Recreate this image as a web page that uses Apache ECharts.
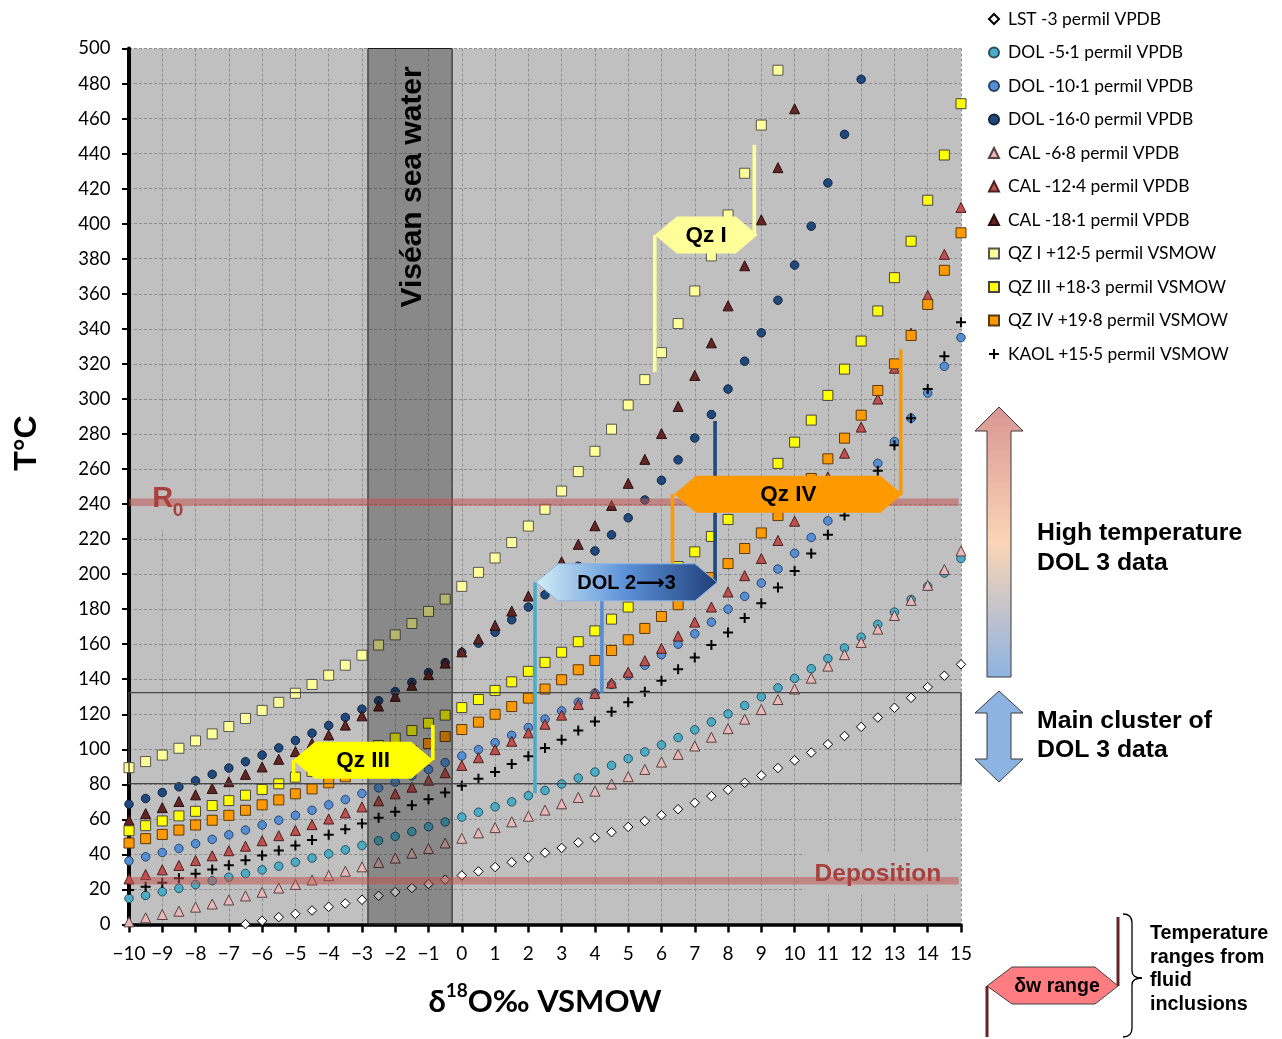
<!DOCTYPE html>
<html>
<head>
<meta charset="utf-8">
<title>δ18O water vs temperature</title>
<script src="https://cdn.jsdelivr.net/npm/echarts@6/dist/echarts.min.js"></script>
<style>
  html, body { margin: 0; padding: 0; background: #fff; }
  #chart { width: 1282px; height: 1039px; }
</style>
</head>
<body>
<div id="chart"></div>
<script>
// δ18O of the water (‰ VSMOW), one point every 0.5 ‰
const dW = [-10, -9.5, -9, -8.5, -8, -7.5, -7, -6.5, -6, -5.5,
  -5, -4.5, -4, -3.5, -3, -2.5, -2, -1.5, -1, -0.5,
  0, 0.5, 1, 1.5, 2, 2.5, 3, 3.5, 4, 4.5,
  5, 5.5, 6, 6.5, 7, 7.5, 8, 8.5, 9, 9.5,
  10, 10.5, 11, 11.5, 12, 12.5, 13, 13.5, 14, 14.5, 15];

// temperatures (°C), null = off the chart
const lst = [null, null, null, null, null, null, null, 0.2, 2.1, 4.2,
  6.1, 8, 10.1, 12, 14.1, 16.4, 18.5, 20.8, 23.1, 25.6,
  28, 30.3, 32.8, 35.5, 38.2, 41, 43.7, 46.8, 49.6, 52.7,
  55.7, 59, 62.4, 65.8, 69.5, 73.3, 76.9, 80.9, 85.1, 89.3,
  93.7, 98.1, 102.9, 107.6, 112.8, 118.1, 123.7, 129.4, 135.5, 142, 148.5];
const dol5 = [14.9, 16.6, 18.7, 20.6, 22.8, 25, 27, 29.1, 31.2, 33.3,
  35.6, 37.9, 40.3, 42.6, 45.1, 47.8, 50.3, 53, 55.8, 58.5,
  61.3, 64.1, 67.2, 70, 73.5, 76.5, 80.2, 83.6, 87, 90.8,
  94.7, 98.5, 102.5, 106.7, 111.1, 115.6, 120.2, 125, 130, 135.1,
  140.5, 146, 151.8, 157.8, 164, 171.3, 178.3, 185.5, 193, 200.6, 208.9];
const dol10 = [36.3, 38.6, 41.1, 43.4, 46.1, 48.6, 51.2, 53.9, 56.8, 59.5,
  62.3, 65.2, 68.3, 71.3, 74.8, 78, 81.3, 84.9, 88.5, 92.4,
  96.2, 99.8, 103.8, 108, 112.4, 117.2, 121.9, 126.9, 132, 137,
  142.2, 148, 154, 160, 165.9, 172.6, 180, 187.3, 194.9, 202.9,
  211.9, 220.9, 230.4, 240.5, 251.5, 263.2, 275.6, 289, 303.3, 318.6, 335];
const dol16 = [68.6, 71.9, 75.3, 78.6, 82, 85.7, 89.3, 92.9, 96.7, 100.8,
  105, 109.2, 113.6, 118.2, 122.9, 127.7, 132.9, 138.2, 143.8, 149.5,
  155.3, 160.6, 166.8, 173.9, 181.2, 188.2, 196, 204.5, 213.2, 222.4,
  232.1, 242.3, 253.5, 265.2, 277.7, 291.1, 305.6, 321.5, 337.7, 356.3,
  376.4, 398.6, 423.3, 451, 482.4, null, null, null, null, null, null];
const cal7 = [1.5, 3.8, 5.7, 7.6, 9.9, 11.7, 14, 16.3, 18.4, 20.8,
  22.9, 25.4, 27.9, 30.4, 32.9, 35.4, 37.9, 40.7, 43.4, 46.5,
  49.2, 52.3, 55.3, 58.6, 61.8, 65.3, 68.9, 72.5, 76.1, 80.2,
  84.4, 88.5, 92.7, 97.1, 101.9, 106.9, 111.8, 117.2, 122.7, 128.4,
  134.4, 140.6, 147.5, 154, 161, 168.6, 176.4, 185, 193.6, 202.6, 213.2];
const cal12 = [26, 28.5, 31.2, 33.7, 36.5, 39.2, 42.1, 44.7, 47.8, 50.7,
  53.7, 57, 60.2, 63.7, 67.1, 70.6, 74.6, 78.4, 82.4, 86.6,
  90.8, 95.2, 99.8, 104.6, 109.4, 114.3, 119.5, 125.6, 131.9, 137.8,
  144, 150.6, 157.6, 164.6, 172.6, 181.2, 189.8, 199.1, 208.9, 219.2,
  230.2, 242, 255.5, 269, 283.9, 299.9, 317.5, 337.5, 359, 382.5, 409.3];
const cal18 = [59.5, 63.3, 66.7, 70.2, 74, 77.6, 81.5, 85.7, 89.9, 94.3,
  98.7, 103.4, 108.2, 113.8, 119.1, 124.7, 130.2, 136.5, 142.6, 149.2,
  155.6, 163, 170.7, 178.9, 187.5, 197, 207, 217, 227.6, 239.2,
  251.8, 265.5, 280.2, 295.7, 313.4, 332, 353.1, 376, 402.2, 432,
  465.6, null, null, null, null, null, null, null, null, null, null];
const qz1 = [89.5, 93, 96.7, 100.6, 104.8, 108.8, 113, 117.6, 122.2, 126.8,
  132, 137, 142.3, 148, 153.7, 159.5, 165.3, 171.8, 178.7, 185.7,
  193, 201, 209.2, 218, 227.4, 237, 247.4, 258.5, 270.1, 282.7,
  296.5, 311, 326.4, 343, 361.6, 381.6, 405, 428.8, 456.3, 487.6,
  null, null, null, null, null, null, null, null, null, null, null];
const qz3 = [53.5, 56.4, 59.1, 62, 64.6, 67.9, 70.7, 73.8, 77.1, 80.3,
  84.1, 87.4, 90.8, 94.4, 98.2, 102.2, 106.4, 110.7, 114.9, 119.5,
  123.8, 128.4, 133.6, 138.5, 144.5, 149.6, 155.4, 161.4, 167.6, 174.3,
  181.2, 188.5, 196, 204.3, 212.7, 221.5, 231.2, 241.8, 252.3, 263.2,
  275.3, 287.9, 302, 317, 333, 350.2, 369.2, 390, 413.4, 439.2, 468.5];
const qz4 = [46.5, 49, 51.4, 53.9, 56.8, 59.5, 62.3, 65.2, 68.3, 71.1,
  74.6, 77.4, 80.9, 84.3, 87.9, 91.5, 95.3, 99.2, 103.3, 107.3,
  111.3, 115.5, 120, 124.4, 129.2, 134.4, 139.7, 145.4, 150.7, 156.4,
  162.5, 169, 175.8, 182.5, 190, 198, 206, 214.6, 223.5, 233.4,
  243.8, 254.6, 265.8, 277.6, 290.7, 304.8, 320, 336.2, 353.9, 373.4, 394.8];
const kaol = [19.7, 21.6, 23.9, 26.4, 28.9, 31.4, 33.8, 36.7, 39.4, 42.3,
  45.1, 48.2, 51.2, 54.3, 57.6, 61, 64.4, 68.1, 71.5, 75.3,
  79.2, 83.2, 87, 91.6, 96, 100.8, 105.5, 110.7, 115.8, 121.4,
  126.9, 132.8, 139.1, 145.7, 152.4, 159.6, 166.7, 174.9, 183.3, 192.3,
  201.8, 211.7, 222.4, 233.5, 246, 259, 273.5, 289, 305.6, 324.3, 343.8];

// reference ranges
const seaWater = [-2.82, -0.29];          // Viséan sea water δw
const refLevels = [241, 25];              // R0 and deposition temperatures
const mainCluster = [80.4, 132.3];        // main cluster of DOL 3 data (°C)
// δw boxes: [δw from, δw to, T]
const dwBoxes = [[5.8, 8.89, 393.5], [-5.07, -0.86, 93.8], [6.38, 13.24, 245.6], [2.23, 7.67, 195.3]];
const dwNames = ['Qz I', 'Qz III', 'Qz IV', 'DOL 2\u27F63'];
// fluid inclusion temperature ranges: [δw, T from, T to]
const fiRanges = [[5.8, 315.4, 393.5], [8.79, 445, 393.5],
  [-5.05, 83.4, 93.8], [-0.87, 113.9, 93.8],
  [6.33, 206.2, 245.6], [13.19, 328.3, 245.6],
  [2.2, 74.9, 195.3], [4.21, 132.3, 195.3], [7.61, 287.4, 195.3]];

const fiColors = ['#ffff99', '#ffff99', '#ffff00', '#ffff00', '#ff9900', '#ff9900', '#4bacc6', '#558ed5', '#1f497d'];
const dwFills = ['#ffff99', '#ffff00', '#ff9900',
  new echarts.graphic.LinearGradient(0, 0, 1, 0, [
    { offset: 0, color: '#d4eef7' }, { offset: 0.5, color: '#5b90d8' }, { offset: 1, color: '#1f3f78' }])];

const plus = 'path://M0,4H10V6H0Z M4,0H6V10H4Z';
const styles = [
  { name: 'LST -3 permil VPDB', data: lst, symbol: 'diamond', size: 9.5, color: '#ffffff', border: '#000000' },
  { name: 'DOL -5\u00B71 permil VPDB', data: dol5, symbol: 'circle', size: 8.5, color: '#4bacc6', border: '#2b4f5c' },
  { name: 'DOL -10\u00B71 permil VPDB', data: dol10, symbol: 'circle', size: 8.5, color: '#558ed5', border: '#2b4466' },
  { name: 'DOL -16\u00B70 permil VPDB', data: dol16, symbol: 'circle', size: 8.5, color: '#1f497d', border: '#10243d' },
  { name: 'CAL -6\u00B78 permil VPDB', data: cal7, symbol: 'triangle', size: 10, color: '#e6b9b8', border: '#5a4040' },
  { name: 'CAL -12\u00B74 permil VPDB', data: cal12, symbol: 'triangle', size: 10, color: '#c0504d', border: '#4a2020' },
  { name: 'CAL -18\u00B71 permil VPDB', data: cal18, symbol: 'triangle', size: 10, color: '#632523', border: '#2a0f0f' },
  { name: 'QZ I +12\u00B75 permil VSMOW', data: qz1, symbol: 'rect', size: 10, color: '#ffff99', border: '#555555' },
  { name: 'QZ III +18\u00B73 permil VSMOW', data: qz3, symbol: 'rect', size: 10, color: '#ffff00', border: '#444444' },
  { name: 'QZ IV +19\u00B78 permil VSMOW', data: qz4, symbol: 'rect', size: 10, color: '#ff9900', border: '#5a3a10' },
  { name: 'KAOL +15\u00B75 permil VSMOW', data: kaol, symbol: plus, size: 10, color: '#000000', border: null }
];

const scatterSeries = styles.map(s => ({
  name: s.name,
  type: 'scatter',
  z: 2,
  symbol: s.symbol,
  symbolSize: s.size,
  itemStyle: { color: s.color, borderColor: s.border || 'transparent', borderWidth: s.border ? 1 : 0, opacity: 1 },
  data: dW.map((x, i) => [x, s.data[i]]).filter(p => p[1] !== null)
}));

const boldArial = { fontFamily: '"Liberation Sans", Arial, sans-serif', fontWeight: 'bold' };

const overlaySeries = [
  { // patches of plot background behind the R0 / Deposition labels
    type: 'custom', z: 1, silent: true,
    data: [[-9.85, -8.1, 225, 253.7], [10.3, 14.97, 17, 40.8]],
    renderItem: (p, api) => {
      const a = api.coord([api.value(0), api.value(3)]);
      const b = api.coord([api.value(1), api.value(2)]);
      return { type: 'rect', shape: { x: a[0], y: a[1], width: b[0] - a[0], height: b[1] - a[1] }, style: { fill: '#c0c0c0' } };
    }
  },
  { // Viséan sea water
    type: 'custom', z: 3, silent: true,
    data: [seaWater],
    renderItem: (p, api) => {
      const a = api.coord([api.value(0), 500]);
      const b = api.coord([api.value(1), 0]);
      return {
        type: 'group', children: [
          { type: 'rect', shape: { x: a[0], y: a[1], width: b[0] - a[0], height: b[1] - a[1] },
            style: { fill: 'rgba(0,0,0,0.285)', stroke: '#1a1a1a', lineWidth: 1 } },
          { type: 'text', x: (a[0] + b[0]) / 2 + 3, y: api.coord([0, 421])[1], rotation: Math.PI / 2,
            style: Object.assign({ text: 'Vis\u00E9an sea water', fontSize: 30, fill: '#000', align: 'center', verticalAlign: 'middle' }, boldArial) }
        ]
      };
    }
  },
  { // main cluster box
    type: 'custom', z: 4, silent: true,
    data: [mainCluster],
    renderItem: (p, api) => {
      const a = api.coord([-10, api.value(1)]);
      const b = api.coord([15, api.value(0)]);
      return { type: 'rect', shape: { x: a[0], y: a[1], width: b[0] - a[0], height: b[1] - a[1] },
        style: { fill: 'none', stroke: '#474747', lineWidth: 1.3 } };
    }
  },
  { // R0 and deposition levels
    type: 'custom', z: 4, silent: true,
    data: refLevels.map(t => [-10, t]),
    renderItem: (p, api) => {
      const a = api.coord([-10, api.value(1)]);
      const b = api.coord([14.93, api.value(1)]);
      return { type: 'line', shape: { x1: a[0], y1: a[1], x2: b[0], y2: b[1] },
        style: { stroke: 'rgba(192,80,77,0.52)', lineWidth: 7.5 } };
    }
  },
  { // level labels
    type: 'custom', z: 5, silent: true,
    data: [[-9.3, refLevels[0]], [10.6, refLevels[1]]],
    renderItem: (p, api) => {
      const c = api.coord([api.value(0), api.value(1)]);
      const col = '#a8403d';
      if (p.dataIndex === 0) {
        return { type: 'group', children: [
          { type: 'text', x: c[0], y: c[1] - 3, style: Object.assign({ text: 'R', fontSize: 29, fill: col, align: 'left', verticalAlign: 'middle' }, boldArial) },
          { type: 'text', x: c[0] + 20.5, y: c[1] + 8, style: Object.assign({ text: '0', fontSize: 19, fill: col, align: 'left', verticalAlign: 'middle' }, boldArial) }
        ] };
      }
      return { type: 'text', x: c[0], y: c[1] - 6.5,
        style: Object.assign({ text: 'Deposition', fontSize: 24.5, fill: col, align: 'left', verticalAlign: 'middle' }, boldArial) };
    }
  },
  { // fluid inclusion temperature ranges
    type: 'custom', z: 6, silent: true,
    data: fiRanges,
    renderItem: (p, api) => {
      const a = api.coord([api.value(0), api.value(1)]);
      const b = api.coord([api.value(0), api.value(2)]);
      return { type: 'line', shape: { x1: a[0], y1: a[1], x2: b[0], y2: b[1] },
        style: { stroke: fiColors[p.dataIndex], lineWidth: 3.6 } };
    }
  },
  { // δw range boxes
    type: 'custom', z: 7, silent: true,
    data: dwBoxes,
    renderItem: (p, api) => {
      const i = p.dataIndex;
      const l = api.coord([api.value(0), api.value(2)]);
      const r = api.coord([api.value(1), api.value(2)]);
      const h = 18.5, s = 22;
      const y = l[1];
      return { type: 'group', children: [
        { type: 'polygon',
          shape: { points: [[l[0], y], [l[0] + s, y - h], [r[0] - s, y - h], [r[0], y], [r[0] - s, y + h], [l[0] + s, y + h]] },
          style: { fill: dwFills[i], stroke: i === 3 ? '#8db3e2' : null, lineWidth: 1 } },
        { type: 'text', x: (l[0] + r[0]) / 2, y: y + 1,
          style: { text: dwNames[i], fontSize: i === 3 ? 20 : 22.5, fill: '#000', align: 'center', verticalAlign: 'middle',
            fontFamily: '"Liberation Sans", "DejaVu Sans", sans-serif', fontWeight: 'bold' } }
      ] };
    }
  }
];

const chart = echarts.init(document.getElementById('chart'), null, { renderer: 'canvas' });
chart.setOption({
  animation: false,
  backgroundColor: '#ffffff',
  grid: { left: 129, right: 321, top: 48.5, bottom: 114.5, show: true, backgroundColor: '#c0c0c0', borderWidth: 0 },
  legend: {
    orient: 'vertical', left: 983, top: 4, itemGap: 13.5, itemWidth: 10, itemHeight: 10,
    data: styles.map(s => s.name),
    textStyle: { fontFamily: 'Lato, "Noto Sans", sans-serif', fontSize: 17.4, color: '#000', lineHeight: 20, padding: [0, 0, 0, 4] },
    selectedMode: false
  },
  xAxis: {
    type: 'value', min: -10, max: 15, interval: 1,
    axisLine: { show: true, onZero: false, lineStyle: { color: '#000', width: 3.5 } },
    axisTick: { show: true, length: 8, lineStyle: { color: '#000', width: 2.5 } },
    axisLabel: { margin: 20, fontFamily: 'Lato, sans-serif', fontSize: 19, color: '#000', showMinLabel: true, showMaxLabel: true,
      formatter: v => String(v).replace('-', '\u2212') },
    splitLine: { show: true, lineStyle: { color: '#8f8f8f', width: 1, type: [3, 2] } }
  },
  yAxis: {
    type: 'value', min: 0, max: 500, interval: 20,
    axisLine: { show: true, onZero: false, lineStyle: { color: '#000', width: 4 } },
    axisTick: { show: true, length: 7, lineStyle: { color: '#000', width: 2 } },
    axisLabel: { margin: 18.5, fontFamily: 'Lato, sans-serif', fontSize: 18.5, color: '#000' },
    splitLine: { show: true, lineStyle: { color: '#8f8f8f', width: 1, type: [3, 2] } }
  },
  graphic: { elements: [
    { type: 'text', x: 27, y: 443, rotation: Math.PI / 2,
      style: Object.assign({ text: 'T\u00B0C', fontSize: 32, fill: '#000', align: 'center', verticalAlign: 'middle' }, boldArial) },
    { type: 'text', x: 545, y: 999,
      style: { text: '{m|\u03B4}{s|18}{m|O\u2030 VSMOW}', align: 'center', verticalAlign: 'middle',
        rich: {
          m: { fontFamily: 'Lato, "DejaVu Sans", sans-serif', fontWeight: 'bold', fontSize: 31, lineHeight: 36, verticalAlign: 'bottom', fill: '#000' },
          s: { fontFamily: 'Lato, sans-serif', fontWeight: 'bold', fontSize: 19, lineHeight: 14, verticalAlign: 'top', fill: '#000' }
        } } },
    { // high temperature arrow
      type: 'polygon',
      shape: { points: [[999, 407], [1023, 431], [1011, 431], [1011, 677], [987, 677], [987, 431], [975, 431]] },
      style: { fill: new echarts.graphic.LinearGradient(0, 0, 0, 1, [
        { offset: 0, color: '#d99694' }, { offset: 0.5, color: '#fbd5b5' }, { offset: 1, color: '#8db3e2' }]),
        stroke: '#3a3a3a', lineWidth: 1 } },
    { // main cluster double arrow
      type: 'polygon',
      shape: { points: [[999, 691], [1023, 713], [1011, 713], [1011, 759], [1023, 759], [999, 782], [975, 759], [987, 759], [987, 713], [975, 713]] },
      style: { fill: '#8db3e2', stroke: '#3a3a3a', lineWidth: 1 } },
    { type: 'text', x: 1037, y: 519,
      style: Object.assign({ text: 'High temperature\nDOL 3 data', fontSize: 24.8, lineHeight: 29.3, fill: '#000', align: 'left', verticalAlign: 'top' }, boldArial) },
    { type: 'text', x: 1037, y: 706,
      style: Object.assign({ text: 'Main cluster of\nDOL 3 data', fontSize: 24.8, lineHeight: 29.5, fill: '#000', align: 'left', verticalAlign: 'top' }, boldArial) },
    // key for the range symbols
    { type: 'line', shape: { x1: 987, y1: 986, x2: 987, y2: 1037 }, style: { stroke: '#632523', lineWidth: 3 } },
    { type: 'line', shape: { x1: 1118, y1: 917, x2: 1118, y2: 986 }, style: { stroke: '#632523', lineWidth: 3 } },
    { type: 'polygon',
      shape: { points: [[987, 986], [1012, 967], [1095, 967], [1118, 986], [1095, 1004], [1012, 1004]] },
      style: { fill: '#ff7c80', stroke: '#404040', lineWidth: 1 } },
    { type: 'text', x: 1057, y: 987,
      style: Object.assign({ text: '\u03B4w range', fontSize: 19.5, fill: '#000', align: 'center', verticalAlign: 'middle' }, boldArial) },
    // curly brace
    { type: 'bezierCurve', shape: { x1: 1123, y1: 914, x2: 1132, y2: 923, cpx1: 1132, cpy1: 914 }, style: { fill: null, stroke: '#000', lineWidth: 1.3 } },
    { type: 'line', shape: { x1: 1132, y1: 923, x2: 1132, y2: 971 }, style: { stroke: '#000', lineWidth: 1.3 } },
    { type: 'bezierCurve', shape: { x1: 1132, y1: 971, x2: 1142, y2: 978, cpx1: 1132, cpy1: 978 }, style: { fill: null, stroke: '#000', lineWidth: 1.3 } },
    { type: 'bezierCurve', shape: { x1: 1142, y1: 978, x2: 1132, y2: 985, cpx1: 1132, cpy1: 978 }, style: { fill: null, stroke: '#000', lineWidth: 1.3 } },
    { type: 'line', shape: { x1: 1132, y1: 985, x2: 1132, y2: 1028 }, style: { stroke: '#000', lineWidth: 1.3 } },
    { type: 'bezierCurve', shape: { x1: 1132, y1: 1028, x2: 1123, y2: 1037, cpx1: 1132, cpy1: 1037 }, style: { fill: null, stroke: '#000', lineWidth: 1.3 } },
    { type: 'text', x: 1150, y: 921.5,
      style: Object.assign({ text: 'Temperature\nranges from\nfluid\ninclusions', fontSize: 19.8, lineHeight: 23.7, fill: '#000', align: 'left', verticalAlign: 'top' }, boldArial) }
  ] },
  series: scatterSeries.concat(overlaySeries)
});
</script>
</body>
</html>
